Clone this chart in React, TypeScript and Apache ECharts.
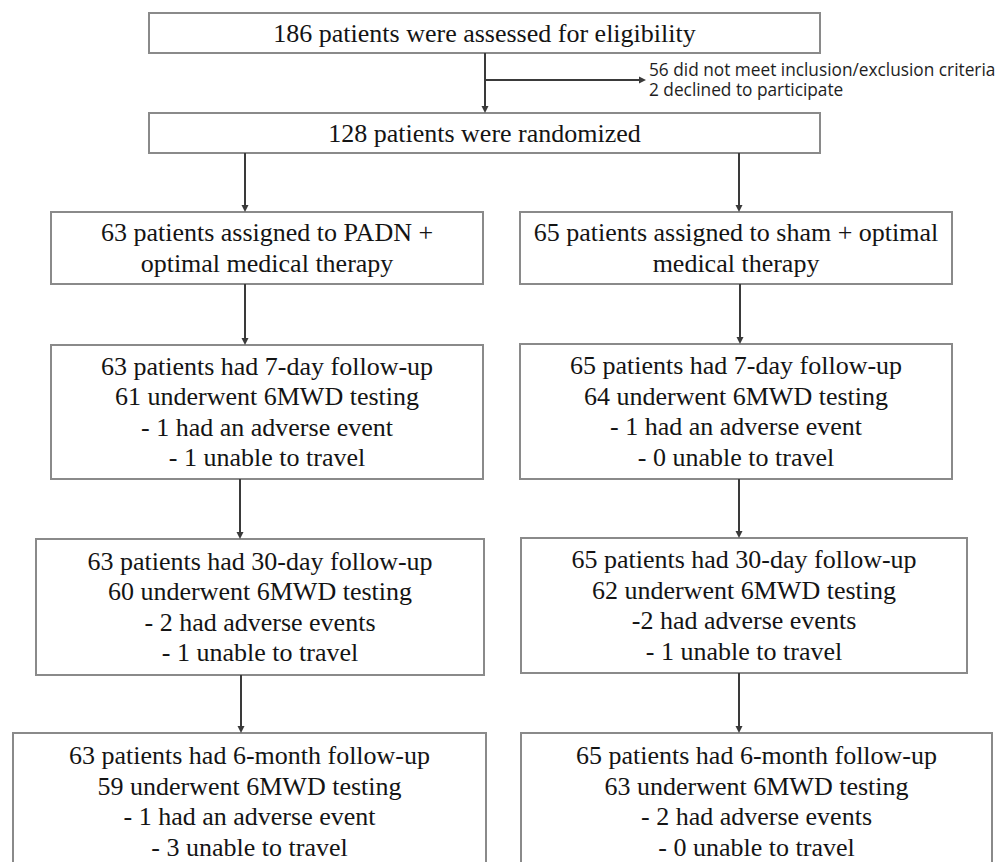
import React, { useEffect, useRef } from "react";
import * as echarts from "echarts";

// ---- data (counts in the CONSORT flow) ----
const assessed = 186;
const randomized = 128;
const notMeetingCriteria = 56;
const declined = 2;
const armSizes = [63, 65];
const followUps = ["7-day", "30-day", "6-month"];
const padnTested = [61, 60, 59];
const shamTested = [64, 62, 63];
const padnAdverse = [1, 2, 1];
const shamAdverse = [1, 2, 2];
const padnUnable = [1, 1, 3];
const shamUnable = [0, 1, 0];
const padnAdverseDash = ["- ", "- ", "- "];
const shamAdverseDash = ["- ", "-", "- "];

// ---- layout (diagram units = pixels of a 997 x 862 page) ----
const W = 997;
const H = 862;
const topBoxes = [
  [149, 13, 820, 53],
  [149, 113, 820, 153],
];
const leftBoxes = [
  [51, 212, 483, 284],
  [51, 345, 483, 479],
  [36, 539, 484, 675],
  [13, 733, 486, 870],
];
const rightBoxes = [
  [520, 212, 952, 284],
  [520, 344, 952, 479],
  [521, 538, 967, 673],
  [521, 733, 992, 870],
];
// vertical arrows: [x, yStart, yEnd]
const vArrows = [
  [485, 53, 113],
  [245, 153, 212],
  [739, 153, 212],
  [245, 284, 345],
  [740, 284, 344],
  [240, 479, 539],
  [739, 479, 538],
  [241, 675, 733],
  [739, 673, 733],
];
// horizontal branch arrow: [xStart, y, xEnd]
const hArrow = [485, 80, 646];
const sideTextPos = [649, 79];

function armLines(
  size: number,
  title: string[],
  tested: number[],
  adverse: number[],
  unable: number[],
  dash: string[]
): string[][] {
  const out: string[][] = [title];
  followUps.forEach((fu, i) => {
    out.push([
      `${size} patients had ${fu} follow-up`,
      `${tested[i]} underwent 6MWD testing`,
      adverse[i] === 1
        ? `${dash[i]}1 had an adverse event`
        : `${dash[i]}${adverse[i]} had adverse events`,
      `- ${unable[i]} unable to travel`,
    ]);
  });
  return out;
}

export default function App() {
  const ref = useRef<HTMLDivElement>(null);

  useEffect(() => {
    if (!ref.current) return;
    const chart = echarts.init(ref.current, null, { renderer: "svg" });

    const leftLines = armLines(
      armSizes[0],
      [`${armSizes[0]} patients assigned to PADN +`, "optimal medical therapy"],
      padnTested,
      padnAdverse,
      padnUnable,
      padnAdverseDash
    );
    const rightLines = armLines(
      armSizes[1],
      [`${armSizes[1]} patients assigned to sham + optimal`, "medical therapy"],
      shamTested,
      shamAdverse,
      shamUnable,
      shamAdverseDash
    );
    const boxes = [...topBoxes, ...leftBoxes, ...rightBoxes];
    const boxTexts: string[][] = [
      [`${assessed} patients were assessed for eligibility`],
      [`${randomized} patients were randomized`],
      ...leftLines,
      ...rightLines,
    ];
    const sideText = [
      `${notMeetingCriteria} did not meet inclusion/exclusion criteria`,
      `${declined} declined to participate`,
    ].join("\n");

    const serifFont = "Liberation Serif";
    const lineGap = 30.5;
    const boxStroke = "#8a8a8a";
    const arrowColor = "#3a3a3a";

    const option: any = {
      animation: false,
      backgroundColor: "#ffffff",
      grid: { left: 0, right: 0, top: 0, bottom: 0 },
      xAxis: { type: "value", min: 0, max: W, show: false },
      yAxis: { type: "value", min: 0, max: H, inverse: true, show: false },
      series: [
        {
          type: "custom",
          name: "boxes",
          silent: true,
          clip: false,
          data: boxes.map((b, i) => [b[0], b[1], b[2], b[3], i]),
          renderItem: (params: any, api: any) => {
            const p0 = api.coord([api.value(0), api.value(1)]);
            const p1 = api.coord([api.value(2), api.value(3)]);
            const lines = boxTexts[params.dataIndex];
            const cx = (p0[0] + p1[0]) / 2;
            const cy = (p0[1] + p1[1]) / 2;
            const n = lines.length;
            return {
              type: "group",
              children: [
                {
                  type: "rect",
                  shape: {
                    x: p0[0],
                    y: p0[1],
                    width: p1[0] - p0[0],
                    height: p1[1] - p0[1],
                  },
                  style: { fill: "#ffffff", stroke: boxStroke, lineWidth: 2 },
                },
                ...lines.map((t, i) => ({
                  type: "text",
                  x: cx,
                  y: cy + (i - (n - 1) / 2) * lineGap,
                  style: {
                    text: t,
                    align: "center",
                    verticalAlign: "middle",
                    fontFamily: serifFont,
                    fontSize: 26,
                    fill: "#141414",
                  },
                })),
              ],
            };
          },
        },
        {
          type: "custom",
          name: "arrows",
          silent: true,
          clip: false,
          data: vArrows.map((a) => [a[0], a[1], a[2]]),
          renderItem: (params: any, api: any) => {
            const s = api.coord([api.value(0), api.value(1)]);
            const e = api.coord([api.value(0), api.value(2)]);
            return {
              type: "group",
              children: [
                {
                  type: "line",
                  shape: { x1: s[0], y1: s[1], x2: e[0], y2: e[1] - 4 },
                  style: { stroke: arrowColor, lineWidth: 2 },
                },
                {
                  type: "polygon",
                  shape: {
                    points: [
                      [e[0] - 3.5, e[1] - 7],
                      [e[0] + 3.5, e[1] - 7],
                      [e[0], e[1]],
                    ],
                  },
                  style: { fill: arrowColor },
                },
              ],
            };
          },
        },
        {
          type: "custom",
          name: "exclusion",
          silent: true,
          clip: false,
          data: [[hArrow[0], hArrow[1], hArrow[2]]],
          renderItem: (params: any, api: any) => {
            const s = api.coord([api.value(0), api.value(1)]);
            const e = api.coord([api.value(2), api.value(1)]);
            const t = api.coord([sideTextPos[0], sideTextPos[1]]);
            return {
              type: "group",
              children: [
                {
                  type: "line",
                  shape: { x1: s[0], y1: s[1], x2: e[0] - 4, y2: e[1] },
                  style: { stroke: arrowColor, lineWidth: 2 },
                },
                {
                  type: "polygon",
                  shape: {
                    points: [
                      [e[0] - 7, e[1] - 3.5],
                      [e[0] - 7, e[1] + 3.5],
                      [e[0], e[1]],
                    ],
                  },
                  style: { fill: arrowColor },
                },
                {
                  type: "text",
                  x: t[0],
                  y: t[1],
                  scaleX: 0.96,
                  style: {
                    text: sideText,
                    fontFamily: "Open Sans",
                    fontSize: 18,
                    lineHeight: 19.5,
                    fill: "#1e1e1e",
                    align: "left",
                    verticalAlign: "middle",
                  },
                },
              ],
            };
          },
        },
      ],
    };

    chart.setOption(option);
    return () => chart.dispose();
  }, []);

  return (
    <div
      ref={ref}
      style={{
        position: "absolute",
        left: 0,
        top: 0,
        width: W,
        height: H,
        background: "#ffffff",
      }}
    />
  );
}
